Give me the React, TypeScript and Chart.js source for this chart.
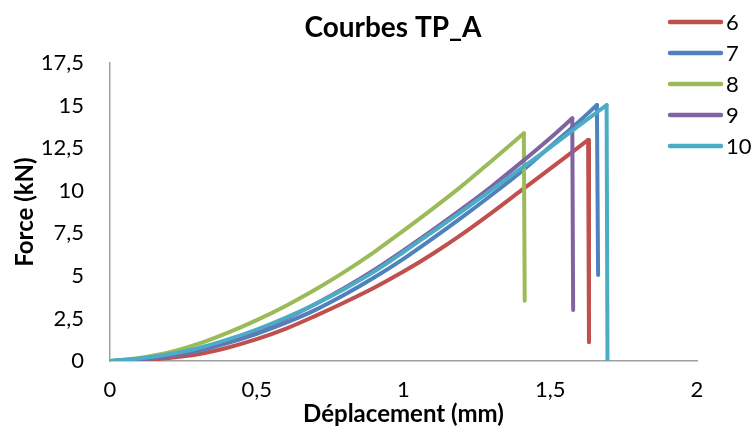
import { useEffect, useRef } from 'react';
import { Chart, registerables } from 'chart.js';
Chart.register(...registerables);

const titleText = 'Courbes TP_A';
const xTitle = 'Déplacement (mm)';
const yTitle = 'Force (kN)';
const seriesNames = ['6', '7', '8', '9', '10'];
const seriesColors = ['#C0504D', '#4F81BD', '#9BBB59', '#8064A2', '#4BACC6'];
const xTickValues = [0, 0.5, 1, 1.5, 2];
const yTickValues = [0, 2.5, 5, 7.5, 10, 12.5, 15, 17.5];

// loading curves (last point = peak) and the final drop point after rupture
const s6x = [0, 0.1, 0.2, 0.3, 0.4, 0.5, 0.6, 0.7, 0.8, 0.9, 1.0, 1.1, 1.2, 1.3, 1.4, 1.5, 1.629];
const s6y = [0, 0.05, 0.18, 0.4, 0.78, 1.28, 1.9, 2.65, 3.45, 4.3, 5.25, 6.3, 7.45, 8.7, 10.0, 11.3, 12.98];
const s6drop = [1.632, 1.1];

const s7x = [0, 0.1, 0.2, 0.3, 0.4, 0.5, 0.6, 0.7, 0.8, 0.9, 1.0, 1.1, 1.2, 1.3, 1.4, 1.5, 1.6, 1.659];
const s7y = [0, 0.08, 0.28, 0.6, 1.05, 1.6, 2.25, 3.0, 3.9, 4.9, 6.0, 7.2, 8.45, 9.75, 11.1, 12.6, 14.1, 15.03];
const s7drop = [1.663, 5.05];

const s8x = [0, 0.1, 0.2, 0.3, 0.4, 0.5, 0.6, 0.7, 0.8, 0.9, 1.0, 1.1, 1.2, 1.3, 1.41];
const s8y = [0, 0.18, 0.5, 1.0, 1.65, 2.4, 3.25, 4.2, 5.25, 6.4, 7.65, 8.95, 10.3, 11.75, 13.37];
const s8drop = [1.413, 3.54];

const s9x = [0, 0.1, 0.2, 0.3, 0.4, 0.5, 0.6, 0.7, 0.8, 0.9, 1.0, 1.1, 1.2, 1.3, 1.4, 1.5, 1.575];
const s9y = [0, 0.08, 0.3, 0.68, 1.2, 1.8, 2.5, 3.35, 4.3, 5.35, 6.5, 7.7, 8.95, 10.25, 11.65, 13.1, 14.25];
const s9drop = [1.578, 3.0];

const s10x = [0, 0.1, 0.2, 0.3, 0.4, 0.5, 0.6, 0.7, 0.8, 0.9, 1.0, 1.1, 1.2, 1.3, 1.4, 1.5, 1.6, 1.692];
const s10y = [0, 0.15, 0.4, 0.75, 1.25, 1.85, 2.55, 3.35, 4.25, 5.25, 6.4, 7.6, 8.8, 10.05, 11.3, 12.55, 13.85, 15.03];
const s10drop = [1.695, 0];

const seriesX = [s6x, s7x, s8x, s9x, s10x];
const seriesY = [s6y, s7y, s8y, s9y, s10y];
const seriesDrop = [s6drop, s7drop, s8drop, s9drop, s10drop];

const FONT = 'Lato, "Open Sans", sans-serif';
const fmt = (v: number | string) => String(v).replace('.', ',');

const overlayPlugin = {
  id: 'overlay',
  afterDraw(chart: any) {
    const ctx = chart.ctx;
    ctx.save();
    ctx.fillStyle = '#000';
    ctx.font = `bold 28px ${FONT}`;
    ctx.textAlign = 'center';
    ctx.textBaseline = 'middle';
    ctx.fillText(titleText, 393, 28);
    seriesNames.forEach((name, i) => {
      const y = 22 + i * 31;
      ctx.strokeStyle = seriesColors[i];
      ctx.lineWidth = 4.5;
      ctx.lineCap = 'round';
      ctx.beginPath();
      ctx.moveTo(670, y);
      ctx.lineTo(721, y);
      ctx.stroke();
      ctx.font = `22px ${FONT}`;
      ctx.textAlign = 'left';
      ctx.fillStyle = '#000';
      ctx.fillText(name, 726, y + 1);
    });
    ctx.restore();
  },
};

export default function App() {
  const ref = useRef<HTMLCanvasElement | null>(null);
  useEffect(() => {
    if (!ref.current) return;
    const datasets: any[] = [];
    seriesNames.forEach((name, i) => {
      const xs = seriesX[i];
      const ys = seriesY[i];
      const common = {
        borderColor: seriesColors[i],
        backgroundColor: seriesColors[i],
        borderWidth: 4,
        pointRadius: 0,
        fill: false,
        borderCapStyle: 'round',
        borderJoinStyle: 'round',
        order: seriesNames.length - i,
      };
      datasets.push({
        ...common,
        label: name,
        data: xs.map((x, j) => ({ x, y: ys[j] })),
        tension: 0.4,
        cubicInterpolationMode: 'monotone',
      });
      datasets.push({
        ...common,
        label: name + ' rupture',
        data: [
          { x: xs[xs.length - 1], y: ys[ys.length - 1] },
          { x: seriesDrop[i][0], y: seriesDrop[i][1] },
        ],
        tension: 0,
      });
    });
    const chart = new Chart(ref.current, {
      type: 'line',
      data: { datasets },
      plugins: [overlayPlugin],
      options: {
        animation: false,
        responsive: false,
        layout: { padding: { top: 63, right: 59, left: 0, bottom: 0 } },
        plugins: { legend: { display: false }, title: { display: false }, tooltip: { enabled: false } },
        scales: {
          x: {
            type: 'linear',
            min: 0,
            max: 2,
            afterBuildTicks: (s: any) => { s.ticks = xTickValues.map((v) => ({ value: v })); },
            afterFit: (s: any) => { s.height = 76; },
            grid: { display: false, drawTicks: false, tickLength: 0 },
            border: { display: true, color: '#A0A0A0', width: 1.5 },
            ticks: {
              callback: (v: any) => fmt(v),
              font: { family: FONT, size: 22 },
              color: '#000',
              padding: 16,
              maxRotation: 0,
              autoSkip: false,
            },
            title: {
              display: true,
              text: xTitle,
              font: { family: FONT, size: 24, weight: 'bold' },
              color: '#000',
              padding: { top: 0, bottom: 8 },
            },
          },
          y: {
            type: 'linear',
            min: 0,
            max: 17.5,
            afterBuildTicks: (s: any) => { s.ticks = yTickValues.map((v) => ({ value: v })); },
            afterFit: (s: any) => { s.width = 110; },
            grid: { display: false, drawTicks: false, tickLength: 0 },
            border: { display: true, color: '#A0A0A0', width: 1.5 },
            ticks: {
              callback: (v: any) => fmt(v),
              font: { family: FONT, size: 22 },
              color: '#000',
              padding: 26,
              autoSkip: false,
            },
            title: {
              display: true,
              text: yTitle,
              font: { family: FONT, size: 24, weight: 'bold' },
              color: '#000',
              padding: { top: 11, bottom: 0 },
            },
          },
        },
      },
    });
    return () => chart.destroy();
  }, []);
  return (
    <div style={{ position: 'absolute', left: 0, top: 0, width: 756, height: 437, background: '#fff' }}>
      <canvas ref={ref} width={756} height={437} style={{ display: 'block' }} />
    </div>
  );
}
